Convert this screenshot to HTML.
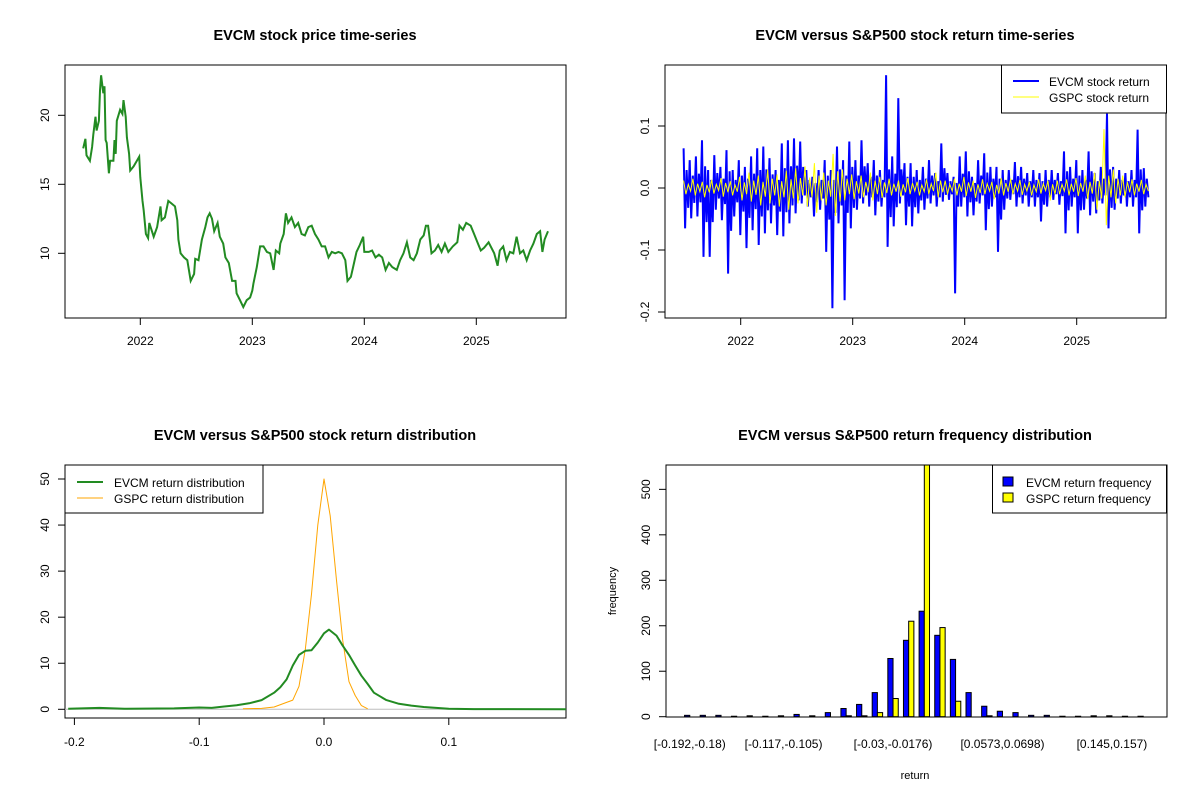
<!DOCTYPE html>
<html><head><meta charset="utf-8"><style>
html,body{margin:0;padding:0;background:#fff;}
svg{display:block;font-family:"Liberation Sans",Arial,sans-serif;}
.t{font-size:14.5px;font-weight:bold;text-anchor:middle;}
.tk{font-size:12px;}
</style></head><body>
<svg id="s" width="1200" height="800" viewBox="0 0 1200 800" xmlns="http://www.w3.org/2000/svg">
<defs>
<clipPath id="c1"><rect x="65" y="65" width="501" height="253"/></clipPath>
<clipPath id="c2"><rect x="665" y="65" width="501" height="253"/></clipPath>
<clipPath id="c3"><rect x="65" y="465" width="501" height="253"/></clipPath>
<clipPath id="c4"><rect x="666" y="465" width="501" height="252"/></clipPath>
</defs>
<text class="t" x="315" y="40">EVCM stock price time-series</text>
<text class="t" x="915" y="40">EVCM versus S&amp;P500 stock return time-series</text>
<text class="t" x="315" y="440">EVCM versus S&amp;P500 stock return distribution</text>
<text class="t" x="915" y="440">EVCM versus S&amp;P500 return frequency distribution</text>
<g id="g1"></g>
<g id="g2"></g>
<g id="g3"></g>
<g id="g4"></g>
</svg>
<script>
// ---- price chart data ----
const priceYears=[2021.49,2021.51,2021.52,2021.55,2021.57,2021.58,2021.60,2021.61,2021.63,2021.64,2021.65,2021.67,2021.68,2021.69,2021.70,2021.72,2021.73,2021.76,2021.77,2021.78,2021.79,2021.82,2021.84,2021.85,2021.87,2021.88,2021.90,2021.91,2021.94,2021.97,2021.99,2022.00,2022.02,2022.03,2022.05,2022.07,2022.08,2022.12,2022.15,2022.18,2022.19,2022.22,2022.25,2022.28,2022.31,2022.33,2022.34,2022.36,2022.39,2022.42,2022.45,2022.48,2022.49,2022.52,2022.55,2022.58,2022.60,2022.62,2022.64,2022.66,2022.69,2022.71,2022.74,2022.76,2022.79,2022.82,2022.85,2022.86,2022.89,2022.92,2022.95,2022.98,2023.00,2023.01,2023.04,2023.07,2023.10,2023.13,2023.16,2023.19,2023.21,2023.24,2023.25,2023.28,2023.30,2023.32,2023.35,2023.38,2023.41,2023.44,2023.47,2023.50,2023.53,2023.56,2023.59,2023.62,2023.65,2023.68,2023.71,2023.74,2023.77,2023.80,2023.83,2023.85,2023.88,2023.90,2023.93,2023.96,2023.99,2024.00,2024.04,2024.07,2024.10,2024.13,2024.16,2024.19,2024.22,2024.25,2024.29,2024.32,2024.35,2024.38,2024.41,2024.44,2024.47,2024.50,2024.53,2024.55,2024.57,2024.60,2024.63,2024.66,2024.69,2024.72,2024.75,2024.79,2024.83,2024.85,2024.88,2024.91,2024.95,2024.98,2025.01,2025.04,2025.07,2025.11,2025.16,2025.19,2025.21,2025.24,2025.27,2025.30,2025.33,2025.36,2025.39,2025.42,2025.45,2025.48,2025.51,2025.54,2025.57,2025.59,2025.61,2025.64];
const prices=[17.6,18.3,17.1,16.7,17.7,18.6,19.9,18.9,19.6,21.8,22.9,21.6,22.1,18.2,18.0,15.8,16.7,16.7,18.2,17.2,19.6,20.4,20.1,21.1,19.9,18.4,17.2,16.0,16.3,16.7,17.0,15.5,13.8,13.1,11.4,11.1,12.2,11.2,11.9,13.4,12.4,12.6,13.8,13.6,13.4,12.4,11.0,10.0,9.7,9.5,8.0,8.5,9.6,9.5,11.0,11.9,12.6,12.9,12.5,11.6,12.2,11.2,10.7,9.7,9.3,8.0,8.0,7.1,6.6,6.1,6.6,6.8,7.3,7.8,9.0,10.5,10.5,10.1,10.0,8.8,10.2,10.0,10.7,11.4,12.9,12.2,12.6,11.9,12.2,11.4,11.3,11.9,12.0,11.4,11.0,10.5,10.5,9.7,10.1,10.0,10.1,10.0,9.5,8.0,8.3,9.0,10.1,10.6,11.2,10.1,10.1,10.2,9.7,9.9,9.7,8.8,9.3,9.0,8.8,9.5,10.0,10.8,9.7,9.5,10.0,11.0,11.3,12.0,12.0,10.0,10.2,10.6,10.1,10.7,10.1,10.5,10.8,12.0,11.7,12.2,12.0,11.4,10.8,10.2,10.4,10.8,10.0,9.1,10.2,10.5,9.5,10.1,10.0,11.2,10.0,10.2,9.5,10.2,10.7,11.4,11.6,10.1,11.0,11.6];
const priceTicks=[10,15,20];
const yearTicks=[2022,2023,2024,2025];
// ---- return chart data ----
const retStart=2021.49, retEnd=2025.64;
const evcmReturns=[0.064,-0.065,0.029,-0.032,0.045,-0.049,0.020,-0.024,0.051,-0.046,0.023,-0.023,0.077,-0.111,0.035,-0.055,0.029,-0.111,0.013,-0.055,0.053,-0.035,0.024,-0.017,0.034,-0.052,0.015,-0.026,0.061,-0.138,0.027,-0.069,0.029,-0.046,0.013,-0.023,0.045,-0.076,0.020,-0.038,0.034,-0.097,0.015,-0.048,0.051,-0.068,0.023,-0.034,0.064,-0.092,0.029,-0.046,0.067,-0.073,0.030,-0.036,0.048,-0.057,0.022,-0.028,0.029,-0.076,0.013,-0.038,0.072,-0.078,0.032,-0.039,0.077,-0.057,0.035,-0.028,0.080,-0.041,0.036,-0.020,0.075,-0.025,0.034,-0.012,0.029,-0.030,0.013,-0.015,0.018,-0.046,0.008,-0.023,0.029,-0.035,0.013,-0.017,0.045,-0.103,0.020,-0.051,0.029,-0.194,0.013,-0.040,0.067,-0.057,0.030,-0.028,0.045,-0.181,0.020,-0.040,0.075,-0.065,0.034,-0.032,0.045,-0.035,0.020,-0.017,0.077,-0.025,0.035,-0.012,0.040,-0.030,0.018,-0.015,0.045,-0.044,0.020,-0.022,0.029,-0.030,0.013,-0.015,0.182,-0.095,0.030,-0.047,0.051,-0.062,0.023,-0.031,0.145,-0.025,0.030,-0.012,0.040,-0.060,0.018,-0.030,0.040,-0.062,0.018,-0.031,0.029,-0.041,0.013,-0.020,0.034,-0.035,0.015,-0.017,0.045,-0.025,0.020,-0.012,0.024,-0.030,0.011,-0.015,0.072,-0.022,0.032,-0.011,0.024,-0.019,0.011,-0.010,0.018,-0.170,0.008,-0.030,0.051,-0.030,0.023,-0.015,0.059,-0.046,0.027,-0.023,0.018,-0.044,0.008,-0.022,0.045,-0.025,0.020,-0.012,0.056,-0.068,0.025,-0.034,0.034,-0.030,0.015,-0.015,0.034,-0.103,0.015,-0.051,0.029,-0.035,0.013,-0.017,0.029,-0.019,0.013,-0.010,0.042,-0.030,0.019,-0.015,0.034,-0.025,0.015,-0.012,0.024,-0.030,0.011,-0.015,0.029,-0.030,0.013,-0.015,0.024,-0.054,0.011,-0.027,0.029,-0.030,0.013,-0.015,0.029,-0.019,0.013,-0.010,0.024,-0.027,0.011,-0.013,0.059,-0.073,0.027,-0.036,0.034,-0.030,0.015,-0.015,0.045,-0.073,0.020,-0.036,0.029,-0.035,0.013,-0.017,0.059,-0.044,0.027,-0.022,0.024,-0.041,0.011,-0.020,0.034,-0.025,0.015,-0.012,0.120,-0.065,0.030,-0.032,0.034,-0.035,0.015,-0.017,0.029,-0.025,0.013,-0.012,0.024,-0.030,0.011,-0.015,0.029,-0.030,0.013,-0.015,0.094,-0.073,0.030,-0.036,0.032,-0.030,0.015,-0.015];
const gspcReturns=[0.012,-0.010,0.006,-0.005,0.015,-0.012,0.007,-0.006,0.010,-0.015,0.005,-0.007,0.013,-0.009,0.006,-0.004,0.016,-0.014,0.008,-0.007,0.011,-0.012,0.005,-0.006,0.018,-0.020,0.009,-0.010,0.025,-0.022,0.012,-0.011,0.020,-0.028,0.010,-0.014,0.030,-0.025,0.015,-0.012,0.022,-0.030,0.011,-0.015,0.028,-0.035,0.014,-0.017,0.032,-0.025,0.016,-0.012,0.035,-0.030,0.017,-0.015,0.040,-0.040,0.020,-0.020,0.025,-0.028,0.012,-0.014,0.055,-0.045,0.027,-0.022,0.030,-0.020,0.015,-0.010,0.022,-0.018,0.011,-0.009,0.020,-0.015,0.010,-0.007,0.025,-0.020,0.012,-0.010,0.018,-0.016,0.009,-0.008,0.015,-0.012,0.007,-0.006,0.012,-0.014,0.006,-0.007,0.016,-0.010,0.008,-0.005,0.010,-0.012,0.005,-0.006,0.014,-0.010,0.007,-0.005,0.025,-0.015,0.012,-0.007,0.012,-0.010,0.006,-0.005,0.015,-0.012,0.007,-0.006,0.018,-0.013,0.009,-0.006,0.012,-0.016,0.006,-0.008,0.014,-0.010,0.007,-0.005,0.010,-0.018,0.005,-0.009,0.016,-0.012,0.008,-0.006,0.015,-0.010,0.007,-0.005,0.013,-0.011,0.006,-0.005,0.010,-0.012,0.005,-0.006,0.014,-0.009,0.007,-0.004,0.012,-0.020,0.006,-0.010,0.012,-0.010,0.006,-0.005,0.014,-0.012,0.007,-0.006,0.016,-0.013,0.008,-0.006,0.020,-0.018,0.010,-0.009,0.025,-0.035,0.012,-0.017,0.095,-0.060,0.020,-0.015,0.030,-0.025,0.015,-0.012,0.020,-0.015,0.010,-0.007,0.014,-0.012,0.007,-0.006,0.013,-0.010,0.006,-0.005];
const retTicks=[-0.2,-0.1,0.0,0.1];
// ---- density chart data ----
const evcmDensX=[-0.205,-0.18,-0.16,-0.12,-0.1,-0.09,-0.08,-0.07,-0.06,-0.05,-0.04,-0.035,-0.03,-0.025,-0.02,-0.015,-0.01,-0.005,0,0.004,0.01,0.015,0.02,0.025,0.03,0.035,0.04,0.05,0.06,0.07,0.08,0.09,0.1,0.12,0.195];
const evcmDens=[0.1,0.3,0.1,0.2,0.4,0.3,0.6,0.9,1.3,2.0,3.6,4.8,6.5,9.5,11.8,12.7,12.8,14.5,16.5,17.3,16.0,13.8,11.8,9.5,7.3,5.5,3.6,2.0,1.2,0.8,0.5,0.3,0.1,0.05,0.0];
const gspcDensX=[-0.065,-0.05,-0.04,-0.03,-0.025,-0.02,-0.015,-0.01,-0.005,0,0.005,0.01,0.015,0.02,0.025,0.03,0.035];
const gspcDens=[0.1,0.2,0.5,1.5,2.0,5,13,25,40,50,42,28,15,6,3,0.8,0.1];
const densXTicks=[-0.2,-0.1,0.0,0.1];
const densYTicks=[0,10,20,30,40,50];
// ---- histogram data ----
const binLabels=["[-0.192,-0.18)","[-0.117,-0.105)","[-0.03,-0.0176)","[0.0573,0.0698)","[0.145,0.157)"];
const binLabelIdx=[0,6,13,20,27];
const evcmFreq=[3,3,3,1,2,1,2,5,2,9,18,27,53,128,168,232,179,126,53,23,12,9,3,3,1,1,2,2,1,1];
const gspcFreq=[0,0,0,0,0,0,0,0,0,0,2,2,9,40,210,560,196,34,0,2,0,0,0,0,0,0,0,0,0,0];
const freqTicks=[0,100,200,300,400,500];

const NS="http://www.w3.org/2000/svg";
function mk(par,tag,attrs){const e=document.createElementNS(NS,tag);for(const k in attrs)e.setAttribute(k,attrs[k]);par.appendChild(e);return e;}
function frame(g,x,y,w,h){const r=mk(g,'rect',{x:x,y:y,width:w,height:h,fill:'none',stroke:'#000','stroke-width':1});

}
function xtick(g,x,yb,label,ly){mk(g,'line',{x1:x,y1:yb,x2:x,y2:yb+7,stroke:'#000'});
const t=mk(g,'text',{x:x,y:ly,'text-anchor':'middle',class:'tk'});t.textContent=label;

}
function ytick(g,xl,y,label){mk(g,'line',{x1:xl,y1:y,x2:xl-7,y2:y,stroke:'#000'});
const t=mk(g,'text',{x:0,y:0,'text-anchor':'middle',class:'tk',transform:`translate(${xl-16},${y}) rotate(-90)`});t.textContent=label;

}
function fmt(v){return v===0?"0.0":String(v);}

// Chart 1
(function(){const g=document.getElementById('g1');
const L=65,T=65,W=501,H=253;
const xs=y=>140.3+(y-2022)*112, ys=p=>253.3-(p-10)*13.8;
frame(g,L,T,W,H);
yearTicks.forEach(y=>xtick(g,xs(y),T+H,String(y),345));
priceTicks.forEach(p=>ytick(g,L,ys(p),String(p)));
const d=prices.map((p,i)=>(i?'L':'M')+xs(priceYears[i]).toFixed(1)+','+ys(p).toFixed(1)).join('');
const pl=mk(g,'path',{d:d,fill:'none',stroke:'#228B22','stroke-width':2,'clip-path':'url(#c1)'});


})();

// Chart 2
(function(){const g=document.getElementById('g2');
const L=665,T=65,W=501,H=253;
const xs=y=>740.7+(y-2022)*112, ys=r=>188-r*620;
frame(g,L,T,W,H);
yearTicks.forEach(y=>xtick(g,xs(y),T+H,String(y),345));
retTicks.forEach(r=>ytick(g,L,ys(r),fmt(r)));
function line(arr,col,w,name){const n=arr.length;
const d=arr.map((r,i)=>(i?'L':'M')+xs(retStart+(retEnd-retStart)*i/(n-1)).toFixed(1)+','+ys(r).toFixed(1)).join('');
const p=mk(g,'path',{d:d,fill:'none',stroke:col,'stroke-width':w,'clip-path':'url(#c2)'});

}
line(evcmReturns,'#0000FF',2,'evcm-return-line');
line(gspcReturns,'#FFFF00',1,'gspc-return-line');
const lg=mk(g,'g',{});


mk(lg,'rect',{x:1001.5,y:65,width:165,height:48,fill:'#fff',stroke:'#000'});
mk(lg,'line',{x1:1013,y1:81,x2:1039,y2:81,stroke:'#0000FF','stroke-width':2});
mk(lg,'line',{x1:1013,y1:97,x2:1039,y2:97,stroke:'#FFFF00','stroke-width':1});
let t=mk(lg,'text',{x:1049,y:86,class:'tk'});t.textContent='EVCM stock return';
t=mk(lg,'text',{x:1049,y:102,class:'tk'});t.textContent='GSPC stock return';
})();

// Chart 3
(function(){const g=document.getElementById('g3');
const L=65,T=465,W=501,H=253;
const xs=v=>324+v*1248, ys=d=>709.3-d*4.606;
frame(g,L,T,W,H);
densXTicks.forEach(v=>xtick(g,xs(v),T+H,fmt(v),746));
densYTicks.forEach(v=>ytick(g,L,ys(v),String(v)));
mk(g,'line',{x1:L,y1:ys(0),x2:L+W,y2:ys(0),stroke:'#BEBEBE'});
function line(xa,ya,col,w,name){const d=ya.map((v,i)=>(i?'L':'M')+xs(xa[i]).toFixed(1)+','+ys(v).toFixed(1)).join('');
const p=mk(g,'path',{d:d,fill:'none',stroke:col,'stroke-width':w,'clip-path':'url(#c3)','stroke-linejoin':'round'});

}
line(gspcDensX,gspcDens,'#FFA500',1,'gspc-density-line');
line(evcmDensX,evcmDens,'#228B22',2,'evcm-density-line');
const lg=mk(g,'g',{});


mk(lg,'rect',{x:65,y:465,width:198,height:48,fill:'#fff',stroke:'#000'});
mk(lg,'line',{x1:77,y1:482,x2:103,y2:482,stroke:'#228B22','stroke-width':2});
mk(lg,'line',{x1:77,y1:498,x2:103,y2:498,stroke:'#FFA500','stroke-width':1});
let t=mk(lg,'text',{x:114,y:487,class:'tk'});t.textContent='EVCM return distribution';
t=mk(lg,'text',{x:114,y:503,class:'tk'});t.textContent='GSPC return distribution';
})();

// Chart 4
(function(){const g=document.getElementById('g4');
const L=666,T=465,W=501,H=252;
const xs=u=>L+(u+2.56)*5.212, ys=v=>716.7-v*0.4547;
freqTicks.forEach(v=>ytick(g,L,ys(v),String(v)));
const bg=mk(g,'g',{'clip-path':'url(#c4)'});
evcmFreq.forEach((v,i)=>{const r=mk(bg,'rect',{x:xs(1+3*i),y:ys(v),width:5.212,height:ys(0)-ys(v),fill:'#0000FF',stroke:'#000','stroke-width':1});

});
gspcFreq.forEach((v,i)=>{const r=mk(bg,'rect',{x:xs(2+3*i),y:ys(v),width:5.212,height:ys(0)-ys(v),fill:'#FFFF00',stroke:'#000','stroke-width':1});

});
frame(g,L,T,W,H);
binLabelIdx.forEach((b,k)=>{const t=mk(g,'text',{x:xs(2+3*b),y:748,'text-anchor':'middle',class:'tk'});t.textContent=binLabels[k];

});
let t=mk(g,'text',{x:915,y:779,'text-anchor':'middle','font-size':'11px'});t.textContent='return';


t=mk(g,'text',{x:0,y:0,'text-anchor':'middle','font-size':'11px',transform:'translate(616,591) rotate(-90)'});t.textContent='frequency';


const lg=mk(g,'g',{});


mk(lg,'rect',{x:992.5,y:465,width:174,height:48,fill:'#fff',stroke:'#000'});
mk(lg,'rect',{x:1003,y:477,width:10,height:9,fill:'#0000FF',stroke:'#000'});
mk(lg,'rect',{x:1003,y:493,width:10,height:9,fill:'#FFFF00',stroke:'#000'});
let t2=mk(lg,'text',{x:1026,y:487,class:'tk'});t2.textContent='EVCM return frequency';
t2=mk(lg,'text',{x:1026,y:503,class:'tk'});t2.textContent='GSPC return frequency';
})();
</script>
</body></html>
